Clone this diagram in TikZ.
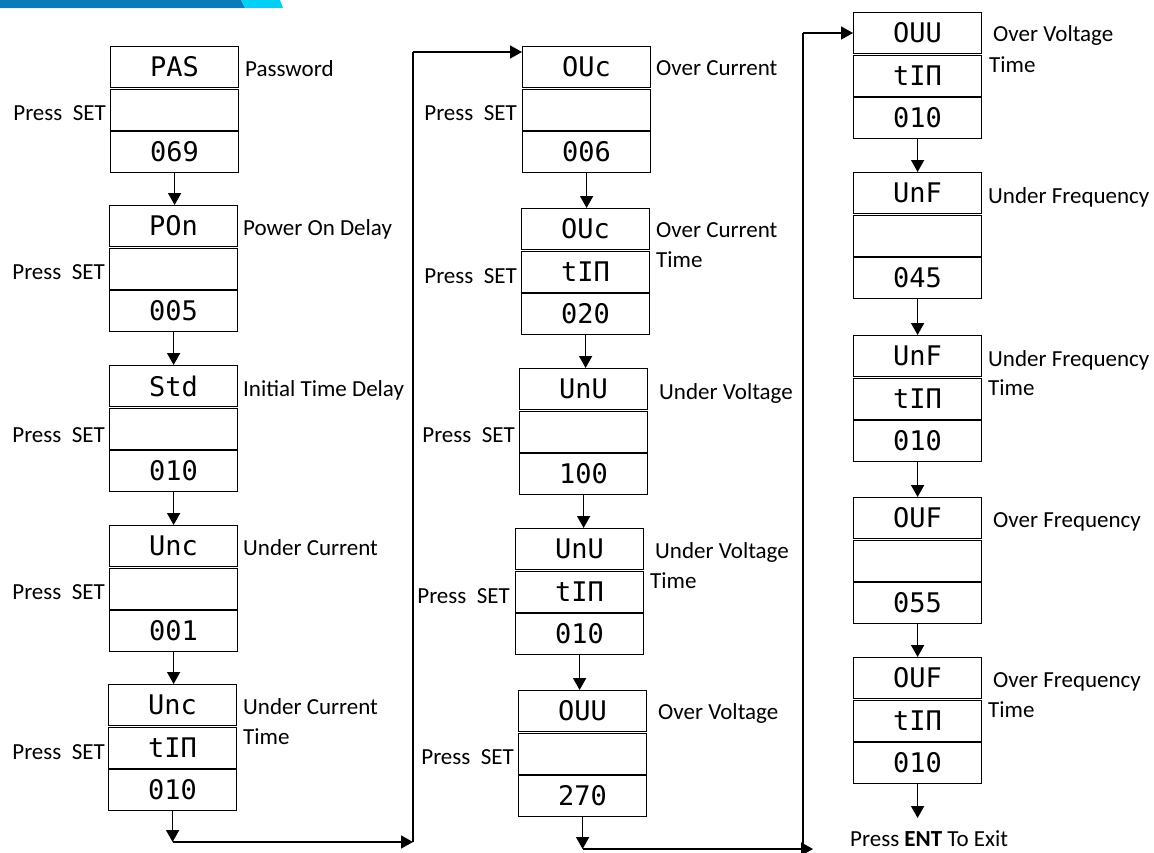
\documentclass[tikz,border=0pt]{standalone}
\usepackage{fontspec}
\setmainfont{Carlito}
\newfontfamily\segfont{DejaVu Sans Mono}
\usetikzlibrary{arrows.meta}
\definecolor{barblue}{RGB}{10,122,185}
\definecolor{barcyan}{RGB}{0,208,245}
\tikzset{
 disp/.style={draw, line width=1.2pt, minimum width=128pt, minimum height=41pt, inner sep=0pt,
   font=\segfont\fontsize{27}{30}\selectfont, anchor=north west},
 lbl/.style={font=\fontsize{23}{27}\selectfont, inner sep=0pt, anchor=base west},
 setl/.style={font=\fontsize{23}{27}\selectfont, inner sep=0pt, anchor=base east},
 flow/.style={line width=1.6pt, -{Triangle[width=13pt,length=12pt]}},
 wire/.style={line width=1.1pt},
}
\newcommand\trio[6]{%
 \node[disp] (#1a) at (#2,#3) {#4};
 \node[disp] (#1b) at (#2,#3+42.5) {#5};
 \node[disp] (#1c) at (#2,#3+85) {#6};
}
\begin{document}
\begin{tikzpicture}[x=1pt,y=-1pt]
\useasboundingbox (0,0) rectangle (1154,852);
% header bar
\fill[barblue] (0,0) -- (241,0) -- (245,8) -- (0,8) -- cycle;
\fill[barcyan] (241,0) -- (280,0) -- (283,8) -- (245,8) -- cycle;

% column 1
\trio{A}{110}{46}{PAS}{}{069}
\trio{B}{109}{205}{POn}{}{005}
\trio{C}{109}{365}{Std}{}{010}
\trio{D}{109}{525}{Unc}{}{001}
\trio{E}{108}{684}{Unc}{tIΠ}{010}
% column 2
\trio{F}{522}{46}{OUc}{}{006}
\trio{G}{521}{208}{OUc}{tIΠ}{020}
\trio{H}{519}{368}{UnU}{}{100}
\trio{I}{515}{528}{UnU}{tIΠ}{010}
\trio{J}{518}{690}{OUU}{}{270}
% column 3
\trio{K}{853}{12}{OUU}{tIΠ}{010}
\trio{L}{853}{172}{UnF}{}{045}
\trio{M}{853}{335}{UnF}{tIΠ}{010}
\trio{N}{853}{497}{OUF}{}{055}
\trio{O}{853}{657}{OUF}{tIΠ}{010}

% labels column 1
\node[lbl] (lA) at (245,76) {Password};
\node[lbl] (lB) at (243,235) {Power On Delay};
\node[lbl] (lC) at (243,396) {Initial Time Delay};
\node[lbl] (lD) at (243,555) {Under Current};
\node[lbl] (lE) at (243,714) {Under Current};
\node[lbl] (lE2) at (243,744) {Time};
\node[setl] (sA) at (106,120) {Press~~SET};
\node[setl] (sB) at (105,279) {Press~~SET};
\node[setl] (sC) at (105,442) {Press~~SET};
\node[setl] (sD) at (105,599) {Press~~SET};
\node[setl] (sE) at (105,759) {Press~~SET};
% labels column 2
\node[lbl] (lF) at (656,75) {Over Current};
\node[lbl] (lG) at (656,237) {Over Current};
\node[lbl] (lG2) at (656,267) {Time};
\node[lbl] (lH) at (659,399) {Under Voltage};
\node[lbl] (lI) at (655,558) {Under Voltage};
\node[lbl] (lI2) at (650,588) {Time};
\node[lbl] (lJ) at (658,719) {Over Voltage};
\node[setl] (sF) at (517,120) {Press~~SET};
\node[setl] (sG) at (517,283) {Press~~SET};
\node[setl] (sH) at (515,442) {Press~~SET};
\node[setl] (sI) at (510,603) {Press~~SET};
\node[setl] (sJ) at (514,764) {Press~~SET};
% labels column 3
\node[lbl] (lK) at (993,41) {Over Voltage};
\node[lbl] (lK2) at (989,72) {Time};
\node[lbl] (lL) at (988,203) {Under Frequency};
\node[lbl] (lM) at (988,366) {Under Frequency};
\node[lbl] (lM2) at (988,395) {Time};
\node[lbl] (lN) at (993,527) {Over Frequency};
\node[lbl] (lO) at (993,687) {Over Frequency};
\node[lbl] (lO2) at (988,717) {Time};
\node[lbl] (exit) at (850,846) {Press \textbf{ENT} To Exit};

% vertical flow arrows
\foreach \s/\t in {A/B,B/C,C/D,D/E,F/G,G/H,H/I,I/J,K/L,L/M,M/N,N/O}{
  \draw[flow] (\s c.south) -- (\s c.south |- \t a.north);
}
% column 1 -> column 2
\coordinate (c1y) at (0,842);
\coordinate (c1b) at (Ec.south |- c1y);
\coordinate (c1r) at (413,842);
\coordinate (c1t) at (413,52);
\draw[flow] (Ec.south) -- (c1b);
\draw[flow] (c1b) -- (c1r);
\draw[wire] (c1r) -- (c1t);
\draw[flow] (c1t) -- (c1t -| Fa.west);
% column 2 -> column 3
\coordinate (c2y) at (0,849);
\coordinate (c2b) at (Jc.south |- c2y);
\coordinate (c2r) at (813,849);
\coordinate (c2v) at (803,846);
\coordinate (c2t) at (803,33);
\draw[flow] (Jc.south) -- (c2b);
\draw[flow] (c2b) -- (c2r);
\draw[wire] (c2v) -- (c2t);
\draw[flow] (c2t) -- (c2t -| Ka.west);
% exit
\coordinate (c3y) at (0,818);
\coordinate (c3b) at (Oc.south |- c3y);
\draw[flow] (Oc.south) -- (c3b);
\end{tikzpicture}
\end{document}
